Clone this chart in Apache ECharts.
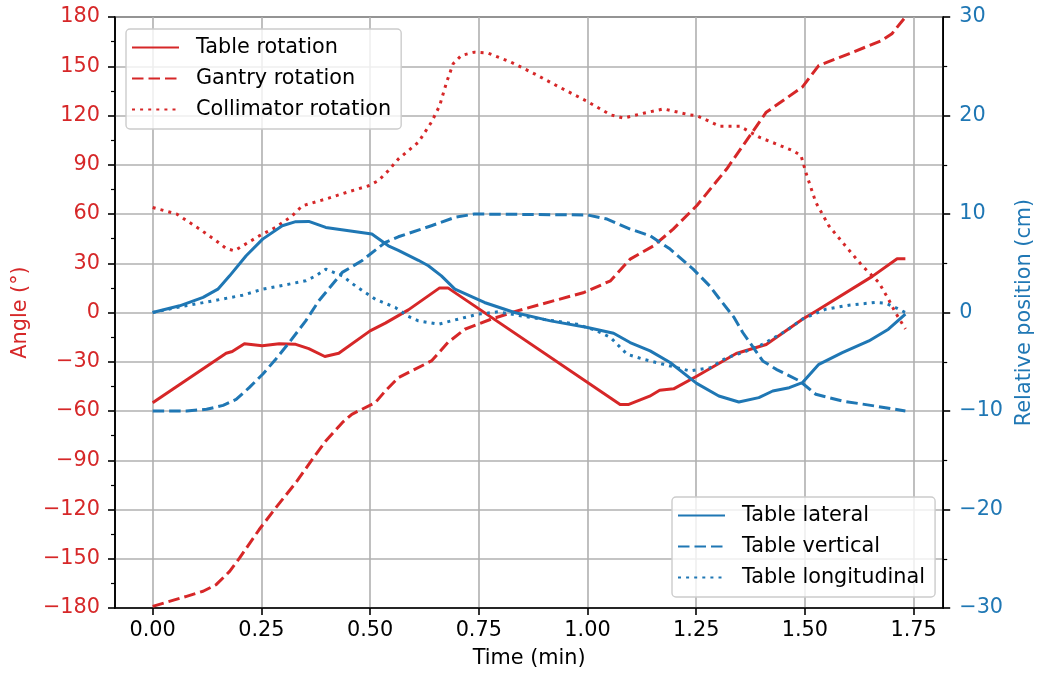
<!DOCTYPE html>
<html><head><meta charset="utf-8">
<script src="https://cdn.jsdelivr.net/npm/echarts@6/dist/echarts.min.js"></script>
<style>html,body{margin:0;padding:0;background:#fff}#c{width:1043px;height:675px}</style>
</head><body><div id="c"></div>
<script>
// ---- Data (time in minutes) ----
const tableRotT = [0, 0.169, 0.183, 0.211, 0.252, 0.291, 0.329, 0.359, 0.396, 0.428, 0.500, 0.535, 0.588, 0.660, 0.679, 1.075, 1.095, 1.143, 1.166, 1.198, 1.251, 1.342, 1.411, 1.496, 1.525, 1.655, 1.712, 1.731];
const tableRotV = [-55, -24.8, -23.8, -19.1, -20.2, -19.1, -19.4, -22, -26.8, -24.8, -11.2, -6.5, 1.6, 15, 15, -56, -56, -51, -47.4, -46.5, -38.8, -25, -19.5, -3.8, 0.8, 22, 32.7, 32.7];

const gantryT = [0, 0.078, 0.116, 0.146, 0.177, 0.200, 0.245, 0.283, 0.329, 0.367, 0.398, 0.436, 0.458, 0.512, 0.535, 0.565, 0.641, 0.679, 0.718, 0.778, 0.832, 0.893, 0.992, 1.053, 1.098, 1.152, 1.197, 1.251, 1.320, 1.411, 1.494, 1.532, 1.601, 1.677, 1.700, 1.731];
const gantryV = [-179, -172.9, -169.8, -165.8, -157.7, -149.5, -132.2, -119, -103.7, -89.5, -78.3, -67.1, -62, -54.9, -47.8, -39.7, -29.5, -18.3, -10.2, -4.1, 0.5, 5, 12.2, 19.3, 32.5, 40.6, 50.8, 65, 87.4, 122, 137.3, 150.5, 157.6, 165.7, 169.8, 180];

const collT = [0, 0.055, 0.108, 0.146, 0.169, 0.188, 0.207, 0.245, 0.283, 0.321, 0.344, 0.398, 0.451, 0.497, 0.519, 0.542, 0.565, 0.611, 0.641, 0.660, 0.676, 0.691, 0.710, 0.740, 0.771, 0.824, 0.878, 0.931, 1.000, 1.053, 1.083, 1.129, 1.175, 1.235, 1.251, 1.304, 1.350, 1.395, 1.472, 1.491, 1.502, 1.525, 1.555, 1.593, 1.632, 1.670, 1.692, 1.708, 1.731];
const collV = [64, 60, 50.8, 43.7, 39, 37.6, 40.6, 46.7, 51.9, 58.9, 65, 69.1, 73.6, 77.2, 80.3, 86.4, 93.5, 103.7, 115.9, 126, 140.3, 151.5, 156.6, 158.6, 158, 152.5, 145.4, 137.9, 128.5, 120.4, 118.4, 121.4, 124, 120.4, 120, 113.5, 113.5, 106.8, 98.6, 95.6, 85.4, 67.1, 52.8, 40.6, 28.4, 18.3, 8.1, 0, -10];

const latT = [0, 0.062, 0.116, 0.150, 0.177, 0.215, 0.253, 0.298, 0.329, 0.359, 0.398, 0.451, 0.504, 0.542, 0.565, 0.611, 0.634, 0.664, 0.695, 0.763, 0.832, 0.915, 1.000, 1.060, 1.098, 1.144, 1.190, 1.251, 1.302, 1.348, 1.394, 1.426, 1.464, 1.494, 1.532, 1.586, 1.647, 1.692, 1.731];
const latV = [0, 0.68, 1.53, 2.37, 3.72, 5.76, 7.45, 8.81, 9.22, 9.25, 8.64, 8.3, 7.96, 6.77, 6.3, 5.3, 4.74, 3.72, 2.37, 1.02, 0, -0.85, -1.53, -2.1, -3.05, -3.9, -5.08, -7.2, -8.48, -9.09, -8.64, -7.97, -7.63, -7.12, -5.26, -4.07, -2.89, -1.7, -0.17];

const vertT = [0, 0.078, 0.124, 0.162, 0.192, 0.222, 0.253, 0.283, 0.314, 0.352, 0.382, 0.398, 0.436, 0.481, 0.535, 0.565, 0.641, 0.695, 0.740, 1.000, 1.045, 1.098, 1.144, 1.190, 1.243, 1.281, 1.304, 1.337, 1.357, 1.403, 1.434, 1.488, 1.525, 1.586, 1.662, 1.731];
const vertV = [-10, -10, -9.83, -9.43, -8.82, -7.63, -6.27, -4.75, -3.05, -0.85, 1.18, 2.03, 4.07, 5.25, 7.12, 7.69, 8.81, 9.66, 10, 9.9, 9.49, 8.47, 7.79, 6.44, 4.4, 2.7, 1.35, -0.5, -2.03, -4.92, -5.77, -6.95, -8.3, -8.99, -9.5, -10];

const longT = [0, 0.062, 0.131, 0.207, 0.253, 0.314, 0.352, 0.375, 0.398, 0.436, 0.466, 0.512, 0.558, 0.588, 0.611, 0.657, 0.702, 0.748, 0.794, 0.870, 0.976, 1.022, 1.053, 1.091, 1.129, 1.175, 1.236, 1.282, 1.320, 1.357, 1.403, 1.456, 1.494, 1.548, 1.601, 1.662, 1.685, 1.708, 1.731];
const longV = [0, 0.57, 1.12, 1.76, 2.37, 2.88, 3.22, 3.72, 4.4, 3.72, 2.71, 1.35, 0.51, -0.4, -0.85, -1.19, -0.68, -0.17, 0.07, -0.51, -1.19, -1.87, -2.54, -4.24, -4.75, -5.26, -5.94, -5.6, -4.58, -4.07, -3.22, -1.87, -0.68, 0.34, 0.74, 1.02, 0.95, 0.51, 0];

const xTicks = [0, 0.25, 0.5, 0.75, 1.0, 1.25, 1.5, 1.75];
const angleLegend = ['Table rotation', 'Gantry rotation', 'Collimator rotation'];
const posLegend = ['Table lateral', 'Table vertical', 'Table longitudinal'];

// ---- Styling ----
const RED = '#d62728', BLUE = '#1f77b4';
const FONT = 'DejaVu Sans';
const FS = 20.8;
const LW = 3.0;
const DASH = [11.5, 5], DOT = [3, 5.1];
const minus = v => (v < 0 ? '\u2212' + Math.abs(v) : String(v));
const pairs = (t, v) => t.map((x, i) => [x, v[i]]);

function mkSeries(name, t, v, color, type, axis) {
  return {
    name, type: 'line', yAxisIndex: axis, data: pairs(t, v),
    symbol: 'none', showSymbol: false, smooth: false, silent: true,
    z: axis === 1 ? 4 : 3,
    lineStyle: { color, width: LW, type, cap: 'butt', join: 'round' },
    itemStyle: { color }
  };
}

function mkLegend(data, left, top) {
  return {
    data, orient: 'vertical', left, top,
    padding: [8, 10, 9, 5], itemGap: 10, itemWidth: 47, itemHeight: 14,
    backgroundColor: 'rgba(255,255,255,0.8)', borderColor: '#cccccc', borderWidth: 1.4, borderRadius: 4,
    textStyle: { fontFamily: FONT, fontSize: FS, color: '#000', lineHeight: 20, padding: [0, 0, 0, 12] },
    itemStyle: { color: 'rgba(0,0,0,0)', borderWidth: 0, opacity: 0 },
    selectedMode: false
  };
}

const chart = echarts.init(document.getElementById('c'), null, { renderer: 'canvas' });
chart.setOption({
  animation: false,
  textStyle: { fontFamily: FONT },
  grid: { left: 115, right: 95, top: 17, bottom: 67, show: true, borderColor: '#000', borderWidth: 1.6, backgroundColor: 'rgba(0,0,0,0)' },
  xAxis: {
    type: 'value', min: -0.0866, max: 1.818,
    name: 'Time (min)', nameLocation: 'middle', nameGap: 40,
    nameTextStyle: { fontSize: FS, color: '#000', fontFamily: FONT },
    axisLine: { show: true, onZero: false, lineStyle: { color: '#000', width: 1.6 } },
    axisTick: { show: true, customValues: xTicks, length: 7, lineStyle: { color: '#000', width: 1.6 } },
    axisLabel: { customValues: xTicks, formatter: v => v.toFixed(2), fontSize: FS, color: '#000', margin: 12, fontFamily: FONT },
    splitLine: { show: true, lineStyle: { color: '#b0b0b0', width: 1.6 } }
  },
  yAxis: [{
    type: 'value', min: -180, max: 180, interval: 30, position: 'left',
    name: 'Angle (°)', nameLocation: 'middle', nameGap: 84,
    nameTextStyle: { fontSize: FS, color: RED, fontFamily: FONT },
    axisLine: { show: true, onZero: false, lineStyle: { color: '#000', width: 1.6 } },
    axisTick: { show: true, length: 7, lineStyle: { color: '#000', width: 1.6 } },
    minorTick: { show: true, splitNumber: 2, length: 4, lineStyle: { color: '#000', width: 1.2 } },
    axisLabel: { formatter: minus, fontSize: FS, color: RED, margin: 15, fontFamily: FONT },
    splitLine: { show: true, lineStyle: { color: '#b0b0b0', width: 1.6 } }
  }, {
    type: 'value', min: -30, max: 30, interval: 10, position: 'right',
    name: 'Relative position (cm)', nameLocation: 'middle', nameGap: 68,
    nameTextStyle: { fontSize: FS, color: BLUE, fontFamily: FONT },
    axisLine: { show: true, onZero: false, lineStyle: { color: '#000', width: 1.6 } },
    axisTick: { show: true, length: 7, lineStyle: { color: '#000', width: 1.6 } },
    minorTick: { show: true, splitNumber: 2, length: 4, lineStyle: { color: '#000', width: 1.2 } },
    axisLabel: { formatter: minus, fontSize: FS, color: BLUE, margin: 16, fontFamily: FONT },
    splitLine: { show: false }
  }],
  legend: [mkLegend(angleLegend, 126, 29), mkLegend(posLegend, 672, 497)],
  series: [
    mkSeries(angleLegend[0], tableRotT, tableRotV, RED, 'solid', 0),
    mkSeries(angleLegend[1], gantryT, gantryV, RED, DASH, 0),
    mkSeries(angleLegend[2], collT, collV, RED, DOT, 0),
    mkSeries(posLegend[0], latT, latV, BLUE, 'solid', 1),
    mkSeries(posLegend[1], vertT, vertV, BLUE, DASH, 1),
    mkSeries(posLegend[2], longT, longV, BLUE, DOT, 1)
  ]
});
</script>
</body></html>
